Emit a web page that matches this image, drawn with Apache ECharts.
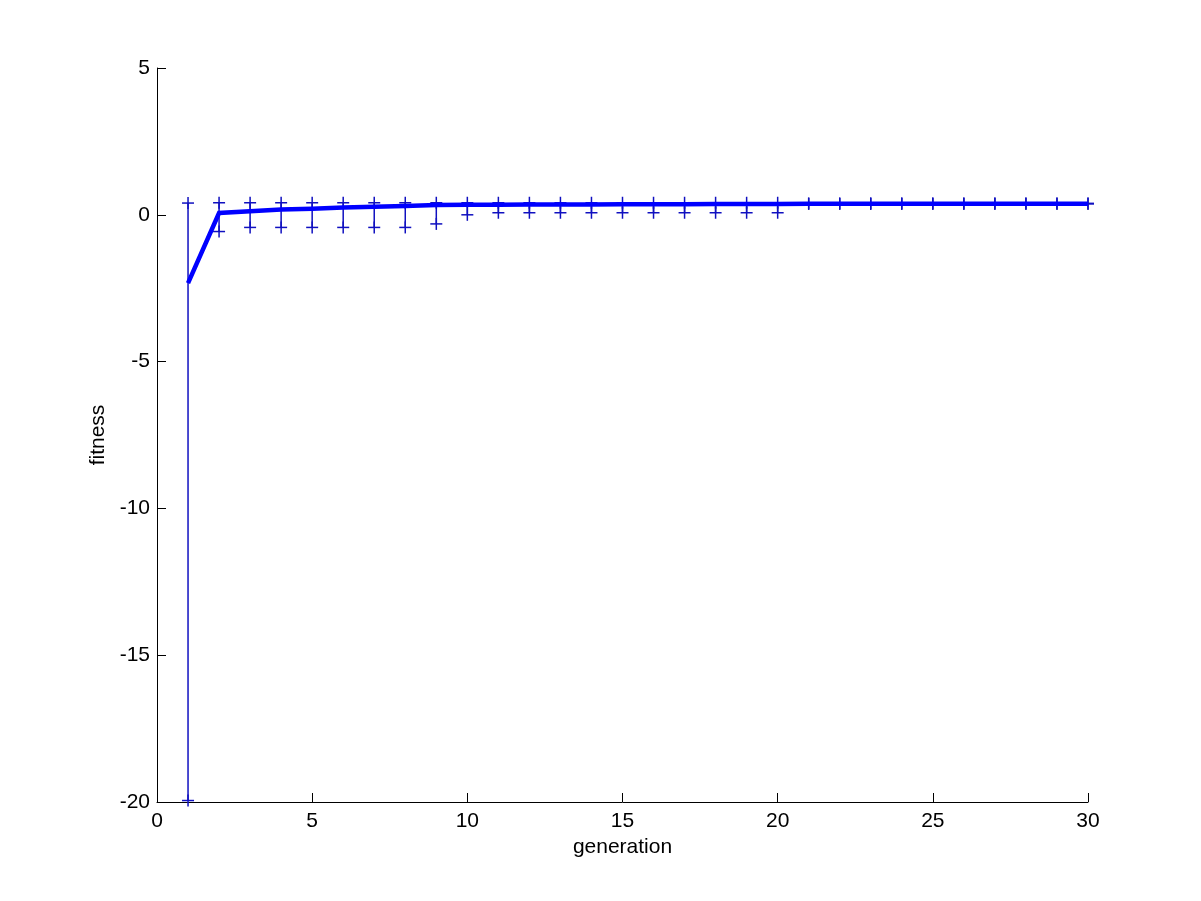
<!DOCTYPE html>
<html>
<head>
<meta charset="utf-8">
<script src="https://cdn.jsdelivr.net/npm/echarts@6/dist/echarts.min.js"></script>
<style>
  html, body { margin: 0; padding: 0; background: #fff; }
  #main { width: 1201px; height: 901px; }
</style>
</head>
<body>
<div id="main"></div>
<script>
// generation numbers
const generations = [1,2,3,4,5,6,7,8,9,10,11,12,13,14,15,16,17,18,19,20,21,22,23,24,25,26,27,28,29,30];
// mean fitness (thick line)
const meanFit = [-2.33,0.06,0.12,0.18,0.21,0.25,0.27,0.30,0.33,0.34,0.34,0.35,0.35,0.35,0.36,
                 0.36,0.36,0.37,0.37,0.37,0.38,0.38,0.38,0.38,0.38,0.38,0.38,0.38,0.38,0.38];
// upper / lower ends of the error bars
const upperFit = [0.40,0.41,0.41,0.41,0.41,0.41,0.41,0.41,0.41,0.41,0.41,0.41,0.41,0.41,0.41,
                  0.41,0.41,0.41,0.41,0.41,0.39,0.39,0.39,0.39,0.39,0.39,0.39,0.39,0.39,0.39];
const lowerFit = [-19.95,-0.57,-0.43,-0.43,-0.43,-0.43,-0.43,-0.43,-0.31,0.00,0.07,0.07,0.07,0.07,0.07,
                  0.07,0.07,0.07,0.07,0.07,0.37,0.37,0.37,0.37,0.37,0.37,0.37,0.37,0.37,0.37];
const xTicks = [0, 5, 10, 15, 20, 25, 30];
const yTicks = [-20, -15, -10, -5, 0, 5];

const errColor = '#1010c0';
const font = 'Liberation Sans, Arial, sans-serif';

const chart = echarts.init(document.getElementById('main'));

const errData = generations.map((g, i) => [g, lowerFit[i], upperFit[i]]);

// one cross marker as two short lines
function cross(p, h) {
  return [
    { type: 'line', shape: { x1: p[0] - h, y1: p[1], x2: p[0] + h, y2: p[1] }, style: { stroke: errColor, lineWidth: 1.5 } },
    { type: 'line', shape: { x1: p[0], y1: p[1] - h, x2: p[0], y2: p[1] + h }, style: { stroke: errColor, lineWidth: 1.5 } }
  ];
}

const option = {
  backgroundColor: '#fff',
  animation: false,
  grid: { left: 157, top: 68, right: 113, bottom: 99 },
  xAxis: {
    type: 'value',
    min: xTicks[0], max: xTicks[xTicks.length - 1], interval: 5,
    name: 'generation', nameLocation: 'middle', nameGap: 35,
    nameTextStyle: { color: '#000', fontSize: 21, fontFamily: font },
    axisLine: { onZero: false, lineStyle: { color: '#000', width: 1 } },
    axisTick: { inside: true, length: 9, lineStyle: { color: '#000' } },
    axisLabel: { color: '#000', fontSize: 21, fontFamily: font, margin: 9 },
    splitLine: { show: false }
  },
  yAxis: {
    type: 'value',
    min: yTicks[0], max: yTicks[yTicks.length - 1], interval: 5,
    name: 'fitness', nameLocation: 'middle', nameGap: 48,
    nameTextStyle: { color: '#000', fontSize: 21, fontFamily: font },
    axisLine: { show: true, onZero: false, lineStyle: { color: '#000', width: 1 } },
    axisTick: { show: true, inside: true, length: 9, lineStyle: { color: '#000' } },
    axisLabel: { color: '#000', fontSize: 21, fontFamily: font, margin: 7 },
    splitLine: { show: false }
  },
  series: [
    {
      type: 'custom',
      data: errData,
      encode: { x: 0, y: [1, 2] },
      clip: false,
      z: 2,
      renderItem: function (params, api) {
        const g = api.value(0);
        const lo = api.coord([g, api.value(1)]);
        const hi = api.coord([g, api.value(2)]);
        const children = [
          { type: 'line', shape: { x1: lo[0], y1: lo[1], x2: hi[0], y2: hi[1] }, style: { stroke: errColor, lineWidth: 1.5 } }
        ].concat(cross(hi, 6), cross(lo, 6));
        return { type: 'group', children: children };
      }
    },
    {
      type: 'line',
      data: generations.map((g, i) => [g, meanFit[i]]),
      showSymbol: false,
      z: 3,
      lineStyle: { color: '#0000ff', width: 4.5, join: 'miter' }
    }
  ]
};

chart.setOption(option);
</script>
</body>
</html>
